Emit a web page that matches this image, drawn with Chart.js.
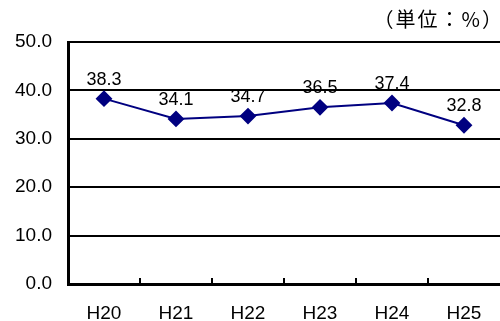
<!DOCTYPE html>
<html>
<head>
<meta charset="utf-8">
<style>
  html, body { margin: 0; padding: 0; background: #fff; }
  #wrap { width: 500px; height: 321px; position: relative; }
</style>
<script src="https://cdn.jsdelivr.net/npm/chart.js@4/dist/chart.umd.min.js"></script>
</head>
<body>
<div id="wrap"><canvas id="c" width="500" height="321"></canvas></div>
<script>
// Fiscal years (Heisei era) and the yearly rate in percent
const years = ['H20', 'H21', 'H22', 'H23', 'H24', 'H25'];
const rates = [38.3, 34.1, 34.7, 36.5, 37.4, 32.8];
const yTicks = [0, 10, 20, 30, 40, 50];
const unitText = '（単位：%）';

const FONT = "'Liberation Sans', Arial, sans-serif";

// Value labels above each point, short inward ticks between categories, unit note
const decorations = {
  id: 'decorations',
  afterDatasetsDraw(chart) {
    const ctx = chart.ctx;
    const meta = chart.getDatasetMeta(0);
    ctx.save();
    ctx.fillStyle = '#000';
    ctx.font = '18px ' + FONT;
    ctx.textAlign = 'center';
    ctx.textBaseline = 'alphabetic';
    meta.data.forEach((pt, i) => {
      ctx.fillText(rates[i].toFixed(1), pt.x, pt.y - 14);
    });

    const x = chart.scales.x;
    const bottom = chart.chartArea.bottom;
    ctx.strokeStyle = '#000';
    ctx.lineWidth = 2;
    for (let i = 0; i < years.length - 1; i++) {
      const px = (x.getPixelForValue(i) + x.getPixelForValue(i + 1)) / 2;
      ctx.beginPath();
      ctx.moveTo(px, bottom);
      ctx.lineTo(px, bottom - 6);
      ctx.stroke();
    }

    ctx.font = "20px 'Noto Sans CJK JP', sans-serif";
    ctx.letterSpacing = '2px';
    ctx.textAlign = 'right';
    ctx.textBaseline = 'middle';
    ctx.fillText(unitText, 504, 19);
    ctx.restore();
  }
};

new Chart(document.getElementById('c'), {
  type: 'line',
  data: {
    labels: years,
    datasets: [{
      data: rates,
      borderColor: '#000080',
      backgroundColor: '#000080',
      borderWidth: 2,
      pointStyle: 'rectRot',
      pointRadius: 7,
      pointHoverRadius: 7,
      tension: 0
    }]
  },
  options: {
    responsive: false,
    animation: false,
    layout: { autoPadding: false, padding: { top: 42, left: 12, right: 0, bottom: 0 } },
    plugins: { legend: { display: false }, tooltip: { enabled: false } },
    scales: {
      x: {
        offset: true,
        grid: { display: false, drawTicks: false },
        border: { display: true, color: '#000', width: 3 },
        ticks: { color: '#000', font: { family: FONT, size: 19 }, padding: 18 },
        afterFit(scale) {
          scale.height = 37;
          scale.paddingLeft = 0;
          scale.paddingRight = 0;
        }
      },
      y: {
        min: 0,
        max: 50,
        afterBuildTicks(scale) { scale.ticks = yTicks.map(v => ({ value: v })); },
        grid: { color: '#000', lineWidth: 2, drawTicks: false },
        border: { display: true, color: '#000', width: 3 },
        ticks: {
          color: '#000',
          font: { family: FONT, size: 19 },
          padding: 16,
          callback: v => Number(v).toFixed(1)
        },
        afterFit(scale) {
          scale.width = 56;
          scale.paddingTop = 0;
          scale.paddingBottom = 0;
        }
      }
    }
  },
  plugins: [decorations]
});
</script>
</body>
</html>
